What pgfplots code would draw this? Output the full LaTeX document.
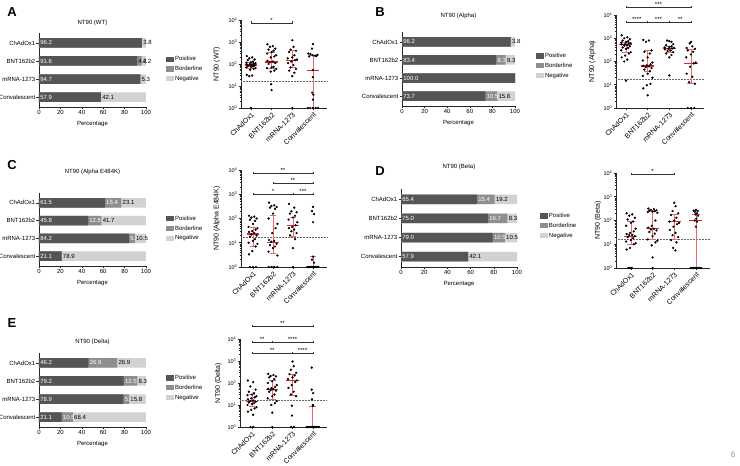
\documentclass[border=0pt]{standalone}
\usepackage{fontspec}
\setmainfont{Liberation Sans}
\usepackage{pgfplots}
\pgfplotsset{compat=1.18}
\definecolor{posc}{HTML}{555555}
\definecolor{bordc}{HTML}{8E8E8E}
\definecolor{negc}{HTML}{D2D2D2}
\definecolor{medred}{HTML}{E3242B}
\definecolor{iqrred}{HTML}{E8686C}
\pgfplotsset{
  barax/.style={
    scale only axis, axis lines*=left, enlargelimits=false, clip=false,
    xmin=0, xmax=100, ymin=0.45, ymax=4.55,
    xtick={0,20,40,60,80,100}, ytick={1,2,3,4},
    yticklabels={Convalescent,mRNA-1273,BNT162b2,ChAdOx1},
    tick align=outside, major tick length=2.5pt,
    axis line style={line width=0.6pt, draw=black!85},
    tick style={line width=0.5pt, black!85},
    ticklabel style={font=\fontsize{6}{7}\selectfont, inner sep=1pt},
    /pgf/number format/assume math mode=true,
    xlabel={Percentage},
    xlabel style={at={(axis description cs:0.5,0)}, anchor=center, yshift=-17pt, font=\fontsize{6}{7}\selectfont},
    every axis title shift=0pt,
    title style={at={(axis description cs:0.5,1)}, anchor=center, font=\fontsize{6}{7}\selectfont},
    legend image code/.code={\fill[##1] (0pt,-2.6pt) rectangle (8pt,2.6pt);},
    legend cell align=left,
    legend style={draw=none, fill=none, anchor=north west, font=\fontsize{6}{7}\selectfont, row sep=2.4pt, inner sep=0pt, nodes={inner sep=0.8pt}},
  },
  hb/.style={xbar, bar width=9.5pt, bar shift=0pt, draw=none, fill=#1, forget plot},
  lbl/.style={only marks, mark=none, forget plot, nodes near coords, point meta=explicit symbolic,
    every node near coord/.append style={anchor=west, font=\fontsize{6}{7}\selectfont, inner sep=1.2pt, text=#1}},
  scatax/.style={
    scale only axis, ymin=1, ymax=10000, axis lines*=left, clip=false, enlargelimits=false,
    unbounded coords=jump,
    xtick={1,2,3,4}, xticklabels={ChAdOx1,BNT162b2,mRNA-1273,Convalescent},
    xticklabel style={rotate=45, anchor=north east, inner sep=0.8pt, font=\fontsize{7}{8}\selectfont},
    ytick={1,10,100,1000,10000},
    yticklabels={10\textsuperscript{0},10\textsuperscript{1},10\textsuperscript{2},10\textsuperscript{3},10\textsuperscript{4}},
    minor ytick={2,3,4,5,6,7,8,9,20,30,40,50,60,70,80,90,200,300,400,500,600,700,800,900,2000,3000,4000,5000,6000,7000,8000,9000},
    yticklabel style={font=\fontsize{5.5}{6}\selectfont, inner sep=1pt},
    tick align=outside, major tick length=2.5pt, minor tick length=1.5pt,
    axis line style={line width=0.6pt, draw=black!85},
    tick style={line width=0.5pt, black!85},
    ylabel style={font=\fontsize{7}{8}\selectfont, anchor=center},
  },
  ptsty/.style={only marks, mark=*, mark size=0.95pt, black, forget plot},
  medsty/.style={draw=medred, line width=1.1pt, forget plot},
  iqrsty/.style={draw=iqrred, line width=0.8pt, forget plot},
  lodsty/.style={densely dotted, draw=black!60, line width=0.5pt, forget plot},
}
\tikzset{sigl/.style={line width=0.45pt, draw=black!80},
  sigt/.style={anchor=south, inner sep=0.3pt, font=\fontsize{6}{6}\selectfont}}
\newcommand{\sigbar}[5]{%
  \draw[sigl] (axis cs:#1,#4) -- (axis cs:#2,#4);
  \draw[sigl] ([yshift=-1.4pt]axis cs:#1,#4) -- ([yshift=1.4pt]axis cs:#1,#4);
  \draw[sigl] ([yshift=-1.4pt]axis cs:#2,#4) -- ([yshift=1.4pt]axis cs:#2,#4);
  \node[sigt] at (axis cs:#3,#4) {#5};}
\newcommand{\lgd}{%
\addlegendimage{fill=posc,draw=none}\addlegendentry{Positive}
\addlegendimage{fill=bordc,draw=none}\addlegendentry{Borderline}
\addlegendimage{fill=negc,draw=none}\addlegendentry{Negative}}
\begin{document}
\begin{tikzpicture}
\path[use as bounding box] (0pt,0pt) rectangle (740pt,466pt);
% panel letters
\node[font=\bfseries\fontsize{13}{14}\selectfont] at (12pt,454pt) {A};
\node[font=\bfseries\fontsize{13}{14}\selectfont] at (380pt,454pt) {B};
\node[font=\bfseries\fontsize{13}{14}\selectfont] at (12pt,301pt) {C};
\node[font=\bfseries\fontsize{13}{14}\selectfont] at (380pt,295pt) {D};
\node[font=\bfseries\fontsize{13}{14}\selectfont] at (12pt,143pt) {E};
\node[text=black!45, font=\fontsize{8}{9}\selectfont] at (733pt,11pt) {6};

% ===== A bar =====
\begin{axis}[barax, at={(39pt,359pt)}, anchor=south west, width=107pt, height=74pt,
  title={NT90 (WT)}, title style={yshift=10pt}, legend style={at={(1.187,0.70)}}]
\addplot[hb=negc] coordinates {(100,4) (100,3) (100,2) (100,1)};
\addplot[hb=bordc] coordinates {(96.2,4) (95.8,3) (94.7,2) (57.9,1)};
\addplot[hb=posc] coordinates {(96.2,4) (91.6,3) (94.7,2) (57.9,1)};
\addplot[lbl=white] coordinates {(0,4) [96.2] (0,3) [91.6] (0,2) [94.7] (0,1) [57.9]};
\addplot[lbl=black] coordinates {(91.6,3) [4.2]};
\addplot[lbl=black] coordinates {(96.2,4) [3.8] (95.8,3) [4.2] (94.7,2) [5.3] (57.9,1) [42.1]};
\lgd
\end{axis}

% ===== A scatter =====
\begin{semilogyaxis}[scatax, at={(241pt,358pt)}, anchor=south west, width=86pt, height=88pt,
  xmin=0.52, xmax=4.68, ylabel={NT90 (WT)}, ylabel style={at={(axis description cs:-0.28,0.5)}}]
\addplot[lodsty] coordinates {(0.52,17) (4.68,17)};
\addplot[ptsty] table {
x y
0.80 230
1.06 200
0.92 180
1.18 160
0.85 150
1.10 130
1.00 120
0.78 115
1.22 110
1.13 105
0.96 100
0.80 95
1.06 90
0.92 88
1.18 85
0.85 80
1.10 78
1.00 75
0.78 70
1.22 65
1.13 60
0.96 55
0.80 32
1.06 30
0.92 28
1.00 1
1.80 790
2.06 650
1.92 600
2.18 500
1.85 450
2.10 400
2.00 350
1.78 300
2.22 250
2.13 220
1.96 200
1.80 140
2.06 130
1.92 120
2.18 110
1.85 100
2.10 75
2.00 70
1.78 65
2.22 60
2.13 50
1.96 45
1.98 12
2.00 6.5
3.00 1200
3.06 600
2.92 450
3.18 400
2.85 350
3.10 250
3.00 200
2.78 180
3.22 160
3.13 150
2.96 130
2.80 110
3.06 90
2.92 70
3.18 60
2.85 50
3.10 40
3.00 28
3.00 1
4.00 800
3.95 500
3.78 300
3.88 280
4.22 260
3.98 250
4.10 240
4.16 230
3.82 220
4.00 53
4.00 25
3.96 5
4.02 4
4.00 2.4
3.75 1
3.87 1
4.00 1
4.13 1
4.25 1
};
\addplot[iqrsty] coordinates {(1,65) (1,120) (1,nan) (0.83,65) (1.17,65) (1,nan) (0.83,120) (1.17,120) (1,nan)
 (2,63) (2,340) (2,nan) (1.83,63) (2.17,63) (2,nan) (1.83,340) (2.17,340) (2,nan)
 (3,68) (3,435) (3,nan) (2.83,68) (3.17,68) (3,nan) (2.83,435) (3.17,435) (3,nan)
 (4,1) (4,250) (4,nan) (3.83,1) (4.17,1) (4,nan) (3.83,250) (4.17,250)};
\addplot[medsty] coordinates {(0.7,90) (1.3,90) (1,nan) (1.7,123) (2.3,123) (2,nan) (2.7,147) (3.3,147) (3,nan) (3.7,53) (4.3,53)};
\sigbar{1}{3}{2}{7500}{*}
\end{semilogyaxis}

% ===== B bar =====
\begin{axis}[barax, at={(402pt,360pt)}, anchor=south west, width=113pt, height=74pt,
  title={NT90 (Alpha)}, title style={yshift=16pt}, legend style={at={(1.186,0.73)}}]
\addplot[hb=negc] coordinates {(100,4) (100,3) (100,2) (100,1)};
\addplot[hb=bordc] coordinates {(96.2,4) (91.7,3) (100,2) (84.2,1)};
\addplot[hb=posc] coordinates {(96.2,4) (83.4,3) (100,2) (73.7,1)};
\addplot[lbl=white] coordinates {(0,4) [96.2] (0,3) [83.4] (0,2) [100.0] (0,1) [73.7]};
\addplot[lbl=white] coordinates {(83.4,3) [8.3] (73.7,1) [10.5]};
\addplot[lbl=black] coordinates {(96.2,4) [3.8] (91.7,3) [8.3] (84.2,1) [15.8]};
\lgd
\end{axis}

% ===== B scatter =====
\begin{semilogyaxis}[scatax, at={(616pt,358pt)}, anchor=south west, width=88pt, height=93pt,
  xmin=0.54, xmax=4.6, ylabel={NT90 (Alpha)}, ylabel style={at={(axis description cs:-0.27,0.5)}}]
\addplot[lodsty] coordinates {(0.54,17) (4.6,17)};
\addplot[ptsty] table {
x y
0.80 1350
1.06 1100
0.92 1000
1.18 900
0.85 800
1.10 750
1.00 700
0.78 650
1.22 600
1.13 600
0.96 550
0.80 550
1.06 500
0.92 480
1.18 450
0.85 400
1.10 380
1.00 350
0.78 300
1.22 250
1.13 220
0.96 180
0.80 150
1.06 120
0.92 100
1.00 15
1.80 850
2.06 800
1.92 700
2.18 300
1.85 260
2.10 220
2.00 150
1.78 110
2.22 90
2.13 75
1.96 68
1.80 65
2.06 62
1.92 58
2.18 52
1.85 45
2.10 38
2.00 30
1.78 24
2.22 20
2.13 11
1.96 9.5
1.80 7
2.00 3.5
2.90 800
3.00 750
3.10 700
3.18 550
2.85 500
3.10 450
3.00 420
2.78 400
3.22 380
3.13 360
2.96 350
2.80 330
3.06 300
2.92 280
3.18 250
2.85 220
3.10 190
3.00 150
3.00 25
4.00 700
3.94 600
4.06 450
3.80 380
4.18 350
3.85 300
4.10 260
4.00 200
3.78 150
4.22 90
4.13 83
3.96 60
3.80 30
4.06 22
3.92 13
4.18 11
3.85 1
4.00 1
4.15 1
};
\addplot[iqrsty] coordinates {(1,240) (1,680) (1,nan) (0.83,240) (1.17,240) (1,nan) (0.83,680) (1.17,680) (1,nan)
 (2,36) (2,290) (2,nan) (1.83,36) (2.17,36) (2,nan) (1.83,290) (2.17,290) (2,nan)
 (3,245) (3,465) (3,nan) (2.83,245) (3.17,245) (3,nan) (2.83,465) (3.17,465) (3,nan)
 (4,11.5) (4,345) (4,nan) (3.83,11.5) (4.17,11.5) (4,nan) (3.83,345) (4.17,345)};
\addplot[medsty] coordinates {(0.7,520) (1.3,520) (1,nan) (1.7,64) (2.3,64) (2,nan) (2.7,355) (3.3,355) (3,nan) (3.7,83) (4.3,83)};
\sigbar{1}{4}{2.5}{22000}{***}
\sigbar{1}{2}{1.5}{5000}{****}
\sigbar{2}{3}{2.5}{5000}{***}
\sigbar{3}{4}{3.5}{5000}{**}
\end{semilogyaxis}

% ===== C bar =====
\begin{axis}[barax, at={(39pt,200pt)}, anchor=south west, width=107pt, height=73pt,
  title={NT90 (Alpha E484K)}, title style={yshift=21pt}, legend style={at={(1.187,0.70)}}]
\addplot[hb=negc] coordinates {(100,4) (100,3) (100,2) (100,1)};
\addplot[hb=bordc] coordinates {(76.9,4) (58.3,3) (89.5,2) (21.1,1)};
\addplot[hb=posc] coordinates {(61.5,4) (45.8,3) (84.2,2) (21.1,1)};
\addplot[lbl=white] coordinates {(0,4) [61.5] (0,3) [45.8] (0,2) [84.2] (0,1) [21.1]};
\addplot[lbl=white] coordinates {(61.5,4) [15.4] (45.8,3) [12.5] (84.2,2) [5.3]};
\addplot[lbl=black] coordinates {(76.9,4) [23.1] (58.3,3) [41.7] (89.5,2) [10.5] (21.1,1) [78.9]};
\lgd
\end{axis}

% ===== C scatter =====
\begin{semilogyaxis}[scatax, at={(241pt,199pt)}, anchor=south west, width=86pt, height=97pt,
  xmin=0.4, xmax=4.7, ylabel={NT90 (Alpha E484K)}, ylabel style={at={(axis description cs:-0.28,0.5)}}]
\addplot[lodsty] coordinates {(0.4,17) (4.7,17)};
\addplot[ptsty] table {
x y
0.80 130
1.06 120
0.92 110
1.18 100
0.85 90
1.10 80
1.00 60
0.78 45
1.22 40
1.13 35
0.96 30
0.80 28
1.06 25
0.92 22
1.18 20
0.85 18
1.10 14
1.00 12
0.78 10
1.22 9
1.13 7
0.96 4.5
0.80 3.3
0.85 1
1.00 1
1.15 1
1.80 450
2.06 350
1.92 330
2.18 300
1.85 280
2.10 250
2.00 160
1.78 100
2.22 60
2.13 40
1.96 25
1.80 13
2.06 12
1.92 11
2.18 9
1.85 8
2.10 7
2.00 6
1.78 4.3
2.22 3
1.78 1
1.93 1
2.07 1
2.22 1
2.80 400
3.06 280
2.92 200
3.18 180
2.85 160
3.10 130
3.00 110
2.78 90
3.22 70
3.13 53
2.96 45
2.80 40
3.06 35
2.92 30
3.18 25
2.85 20
3.10 14
3.00 6
3.00 1
4.00 300
3.95 200
4.05 150
4.00 70
4.00 2.7
3.95 2
4.05 1.5
3.72 1
3.77 1
3.82 1
3.87 1
3.92 1
3.97 1
4.02 1
4.07 1
4.12 1
4.17 1
4.22 1
4.27 1
};
\addplot[iqrsty] coordinates {(1,6.9) (1,42) (1,nan) (0.83,6.9) (1.17,6.9) (1,nan) (0.83,42) (1.17,42) (1,nan)
 (2,3.5) (2,130) (2,nan) (1.83,3.5) (2.17,3.5) (2,nan) (1.83,130) (2.17,130) (2,nan)
 (3,18) (3,115) (3,nan) (2.83,18) (3.17,18) (3,nan) (2.83,115) (3.17,115) (3,nan)
 (4,1) (4,2.7) (4,nan) (3.83,2.7) (4.17,2.7)};
\addplot[medsty] coordinates {(0.7,23) (1.3,23) (1,nan) (1.7,10.5) (2.3,10.5) (2,nan) (2.7,53) (3.3,53) (3,nan) (3.7,1) (4.3,1)};
\sigbar{1}{4}{2.5}{7500}{**}
\sigbar{2}{4}{3}{2900}{**}
\sigbar{1}{3}{2}{1020}{*}
\sigbar{3}{4}{3.5}{1020}{***}
\end{semilogyaxis}

% ===== D bar =====
\begin{axis}[barax, at={(401pt,199pt)}, anchor=south west, width=116pt, height=78pt,
  title={NT90 (Beta)}, title style={yshift=22pt}, legend style={at={(1.198,0.705)}}]
\addplot[hb=negc] coordinates {(100,4) (100,3) (100,2) (100,1)};
\addplot[hb=bordc] coordinates {(80.8,4) (91.7,3) (89.5,2) (57.9,1)};
\addplot[hb=posc] coordinates {(65.4,4) (75.0,3) (79.0,2) (57.9,1)};
\addplot[lbl=white] coordinates {(0,4) [65.4] (0,3) [75.0] (0,2) [79.0] (0,1) [57.9]};
\addplot[lbl=white] coordinates {(65.4,4) [15.4] (75,3) [16.7] (79,2) [10.5]};
\addplot[lbl=black] coordinates {(80.8,4) [19.2] (91.7,3) [8.3] (89.5,2) [10.5] (57.9,1) [42.1]};
\lgd
\end{axis}

% ===== D scatter =====
\begin{semilogyaxis}[scatax, at={(616pt,198pt)}, anchor=south west, width=94pt, height=95pt,
  xmin=0.31, xmax=4.65, ylabel={NT90 (Beta)}, ylabel style={at={(axis description cs:-0.19,0.5)}}]
\addplot[lodsty] coordinates {(0.31,17) (4.65,17)};
\addplot[ptsty] table {
x y
0.80 200
1.06 180
0.92 160
1.18 130
0.85 110
1.10 90
1.00 80
0.78 60
1.22 45
1.13 35
0.96 30
0.80 27
1.06 25
0.92 24
1.18 22
0.85 20
1.10 18
1.00 15
0.78 13
1.22 11
1.13 10
0.96 7
0.80 6
0.88 1
0.96 1
1.04 1
1.80 320
2.06 300
1.92 280
2.18 270
1.85 260
2.10 250
2.00 240
1.78 230
2.22 210
2.13 100
1.96 60
1.80 50
2.06 45
1.92 42
2.18 38
1.85 33
2.10 28
2.00 22
1.78 16
2.22 14
2.13 12
1.96 9
2.00 2.8
2.00 1
3.00 550
3.06 400
2.92 250
3.18 200
2.85 170
3.10 130
3.00 100
2.78 90
3.22 80
3.13 70
2.96 55
2.80 40
3.06 30
2.92 24
3.18 20
2.85 15
3.10 12
2.95 7
3.05 5.5
4.00 280
3.90 260
4.08 250
3.95 230
4.05 200
3.98 180
4.10 160
4.02 120
3.95 100
4.05 90
4.00 55
3.75 1
3.82 1
3.89 1
3.96 1
4.03 1
4.10 1
4.17 1
4.24 1
};
\addplot[iqrsty] coordinates {(1,10) (1,90) (1,nan) (0.83,10) (1.17,10) (1,nan) (0.83,90) (1.17,90) (1,nan)
 (2,16) (2,240) (2,nan) (1.83,16) (2.17,16) (2,nan) (1.83,240) (2.17,240) (2,nan)
 (3,16) (3,178) (3,nan) (2.83,16) (3.17,16) (3,nan) (2.83,178) (3.17,178) (3,nan)
 (4,1) (4,180) (4,nan) (3.83,180) (4.17,180)};
\addplot[medsty] coordinates {(0.7,22) (1.3,22) (1,nan) (1.7,46) (2.3,46) (2,nan) (2.7,87) (3.3,87) (3,nan) (3.7,100) (4.3,100)};
\sigbar{1}{3}{2}{9100}{*}
\end{semilogyaxis}

% ===== E bar =====
\begin{axis}[barax, at={(39pt,39pt)}, anchor=south west, width=107pt, height=74pt,
  title={NT90 (Delta)}, title style={yshift=11pt}, legend style={at={(1.187,0.716)}}]
\addplot[hb=negc] coordinates {(100,4) (100,3) (100,2) (100,1)};
\addplot[hb=bordc] coordinates {(73.1,4) (91.7,3) (84.2,2) (31.6,1)};
\addplot[hb=posc] coordinates {(46.2,4) (79.2,3) (78.9,2) (21.1,1)};
\addplot[lbl=white] coordinates {(0,4) [46.2] (0,3) [79.2] (0,2) [78.9] (0,1) [21.1]};
\addplot[lbl=white] coordinates {(46.2,4) [26.9] (79.2,3) [12.5] (78.9,2) [5.3] (21.1,1) [10.5]};
\addplot[lbl=black] coordinates {(73.1,4) [26.9] (91.7,3) [8.3] (84.2,2) [15.8] (31.6,1) [68.4]};
\lgd
\end{axis}

% ===== E scatter =====
\begin{semilogyaxis}[scatax, at={(240pt,39pt)}, anchor=south west, width=87pt, height=88pt,
  xmin=0.41, xmax=4.7, ylabel={NT90 (Delta)}, ylabel style={at={(axis description cs:-0.25,0.5)}}]
\addplot[lodsty] coordinates {(0.41,17) (4.7,17)};
\addplot[ptsty] table {
x y
0.80 130
1.06 110
0.92 70
1.18 50
0.85 40
1.10 35
1.00 30
0.78 28
1.22 25
1.13 22
0.96 20
0.80 18
1.06 16
0.92 15
1.18 14
0.85 13
1.10 12
1.00 11
0.78 10
1.22 8
1.13 7
0.96 6
0.80 5
1.06 3.6
0.93 1
1.07 1
1.80 260
2.06 230
1.92 210
2.18 200
1.85 180
2.10 150
2.00 120
1.78 100
2.22 80
2.13 65
1.96 58
1.80 55
2.06 52
1.92 48
2.18 45
1.85 40
2.10 30
2.00 25
1.78 20
2.22 15
2.13 12
1.96 10
2.00 4.5
2.00 1
3.00 950
3.06 580
2.92 400
3.18 290
2.85 250
3.10 220
3.00 180
2.78 150
3.22 130
3.13 110
2.96 80
2.80 60
3.06 40
2.92 30
3.18 25
2.97 9.3
2.97 3.3
2.93 1
3.07 1
3.95 500
3.95 50
4.02 35
3.96 18
4.00 10
4.00 9
3.70 1
3.75 1
3.80 1
3.85 1
3.90 1
3.95 1
4.00 1
4.05 1
4.10 1
4.15 1
4.20 1
4.25 1
4.30 1
};
\addplot[iqrsty] coordinates {(1,8.7) (1,29) (1,nan) (0.83,8.7) (1.17,8.7) (1,nan) (0.83,29) (1.17,29) (1,nan)
 (2,18) (2,137) (2,nan) (1.83,18) (2.17,18) (2,nan) (1.83,137) (2.17,137) (2,nan)
 (3,27) (3,240) (3,nan) (2.83,27) (3.17,27) (3,nan) (2.83,240) (3.17,240) (3,nan)
 (4,1) (4,8.7) (4,nan) (3.83,8.7) (4.17,8.7)};
\addplot[medsty] coordinates {(0.7,15) (1.3,15) (1,nan) (1.7,53) (2.3,53) (2,nan) (2.7,132) (3.3,132) (3,nan) (3.7,1) (4.3,1)};
\sigbar{1}{4}{2.5}{39000}{**}
\sigbar{1}{2}{1.5}{7300}{**}
\sigbar{2}{4}{3}{7300}{****}
\sigbar{1}{3}{2}{2300}{**}
\sigbar{3}{4}{3.5}{2300}{****}
\end{semilogyaxis}
\end{tikzpicture}
\end{document}
